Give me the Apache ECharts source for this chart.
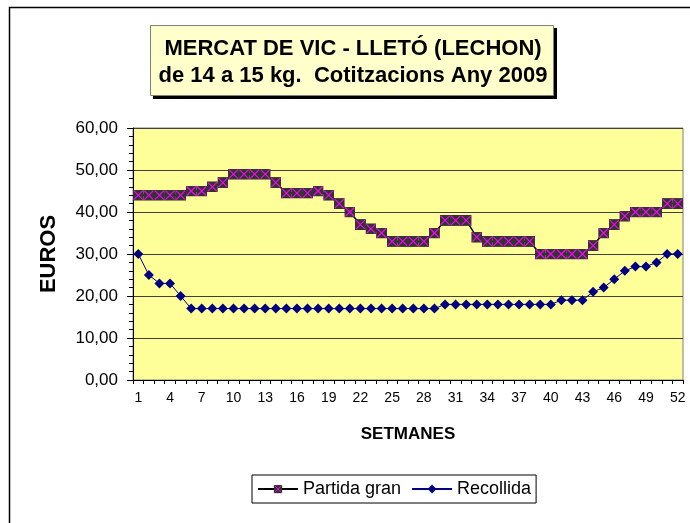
<!DOCTYPE html>
<html>
<head>
<meta charset="utf-8">
<script src="https://cdn.jsdelivr.net/npm/echarts@6/dist/echarts.min.js"></script>
<style>
    html, body { margin: 0; padding: 0; background: #fff; }
    #chart { width: 690px; height: 523px; }
</style>
</head>
<body>
<div id="chart"></div>
<script>
// setmanes de l'any
const setmanes = ['1','2','3','4','5','6','7','8','9','10','11','12','13','14','15','16','17','18','19','20',
    '21','22','23','24','25','26','27','28','29','30','31','32','33','34','35','36','37','38','39','40',
    '41','42','43','44','45','46','47','48','49','50','51','52'];

// cotitzacions (euros)
const partidaGran = [44,44,44,44,44,45,45,46,47,49,49,49,49,47,44.5,44.5,44.5,45,44,42,
    40,37,36,35,33,33,33,33,35,38,38,38,34,33,33,33,33,33,30,30,
    30,30,30,32,35,37,39,40,40,40,42,42];
const recollida = [30,25,23,23,20,17,17,17,17,17,17,17,17,17,17,17,17,17,17,17,
    17,17,17,17,17,17,17,17,17,18,18,18,18,18,18,18,18,18,18,18,
    19,19,19,21,22,24,26,27,27,28,30,30];

const FONT = "'Liberation Sans', Arial, sans-serif";

// quadrat fosc amb creu magenta
const crossSvg = "<svg xmlns='http://www.w3.org/2000/svg' width='22' height='22'>" +
    "<rect width='22' height='22' fill='#333333'/>" +
    "<path d='M2 2L20 20M20 2L2 20' stroke='#FF00FF' stroke-width='2.2'/></svg>";
const crossSymbol = 'image://data:image/svg+xml;charset=utf-8,' + encodeURIComponent(crossSvg);

document.addEventListener('DOMContentLoaded', function() {
    const chart = echarts.init(document.getElementById('chart'));
    const option = {
        animation: false,
        backgroundColor: '#ffffff',
        textStyle: { fontFamily: FONT },
        graphic: [
            {
                type: 'rect', z: 0, silent: true,
                shape: { x: 9.5, y: 7.5, width: 720, height: 560 },
                style: { fill: 'none', stroke: '#000', lineWidth: 1.5 }
            },
            {
                type: 'rect', z: 10, silent: true,
                shape: { x: 153, y: 28, width: 404, height: 71 },
                style: { fill: '#000' }
            },
            {
                type: 'rect', z: 11, silent: true,
                shape: { x: 150.5, y: 25.5, width: 403, height: 70 },
                style: { fill: '#FFFFCC', stroke: '#808080', lineWidth: 1 }
            },
            {
                type: 'text', z: 12, silent: true,
                x: 353, y: 62,
                style: {
                    text: 'MERCAT DE VIC - LLETÓ (LECHON)\nde 14 a 15 kg.  Cotitzacions Any 2009',
                    font: 'bold 22px ' + FONT,
                    fill: '#000',
                    align: 'center',
                    verticalAlign: 'middle',
                    lineHeight: 27
                }
            }
        ],
        legend: {
            left: 252,
            top: 475,
            padding: [5, 5],
            itemGap: 10,
            itemWidth: 40,
            itemHeight: 11,
            borderColor: '#000',
            borderWidth: 1,
            backgroundColor: '#fff',
            textStyle: { fontSize: 18, fontFamily: FONT, color: '#000' },
            data: ['Partida gran', 'Recollida']
        },
        grid: {
            left: 133,
            right: 7,
            top: 128,
            bottom: 143,
            show: true,
            backgroundColor: '#FFFF99',
            borderColor: '#808080',
            borderWidth: 1
        },
        xAxis: {
            type: 'category',
            data: setmanes,
            boundaryGap: true,
            name: 'SETMANES',
            nameLocation: 'middle',
            nameGap: 46,
            nameTextStyle: { fontSize: 17, fontWeight: 'bold', color: '#000', fontFamily: FONT },
            axisLine: { lineStyle: { color: '#000', width: 1 } },
            axisTick: { show: true, interval: 0, length: 4, lineStyle: { color: '#000' } },
            axisLabel: { interval: 2, margin: 11, fontSize: 14, color: '#000', fontFamily: FONT },
            splitLine: { show: false }
        },
        yAxis: {
            type: 'value',
            min: 0,
            max: 60,
            interval: 10,
            name: 'EUROS',
            nameLocation: 'middle',
            nameGap: 73,
            nameRotate: 90,
            nameTextStyle: { fontSize: 22, fontWeight: 'bold', color: '#000', fontFamily: FONT },
            axisLine: { show: true, lineStyle: { color: '#000', width: 1 } },
            axisTick: { show: true, length: 6, lineStyle: { color: '#000' } },
            minorTick: { show: true, splitNumber: 5, length: 4, lineStyle: { color: '#000' } },
            axisLabel: {
                margin: 15, fontSize: 17, color: '#000', fontFamily: FONT,
                formatter: function(v) { return v.toFixed(2).replace('.', ','); }
            },
            splitLine: { show: true, lineStyle: { color: '#404040', width: 1 } }
        },
        series: [
            {
                name: 'Partida gran',
                type: 'line',
                data: partidaGran,
                symbol: crossSymbol,
                symbolSize: 11,
                showAllSymbol: true,
                color: '#000',
                lineStyle: { color: '#000', width: 1.5 },
                z: 3
            },
            {
                name: 'Recollida',
                type: 'line',
                data: recollida,
                symbol: 'diamond',
                symbolSize: 10,
                showAllSymbol: true,
                color: '#000080',
                itemStyle: { color: '#000080' },
                lineStyle: { color: '#000080', width: 1 },
                z: 2
            }
        ]
    };
    chart.setOption(option);
});
</script>
</body>
</html>
